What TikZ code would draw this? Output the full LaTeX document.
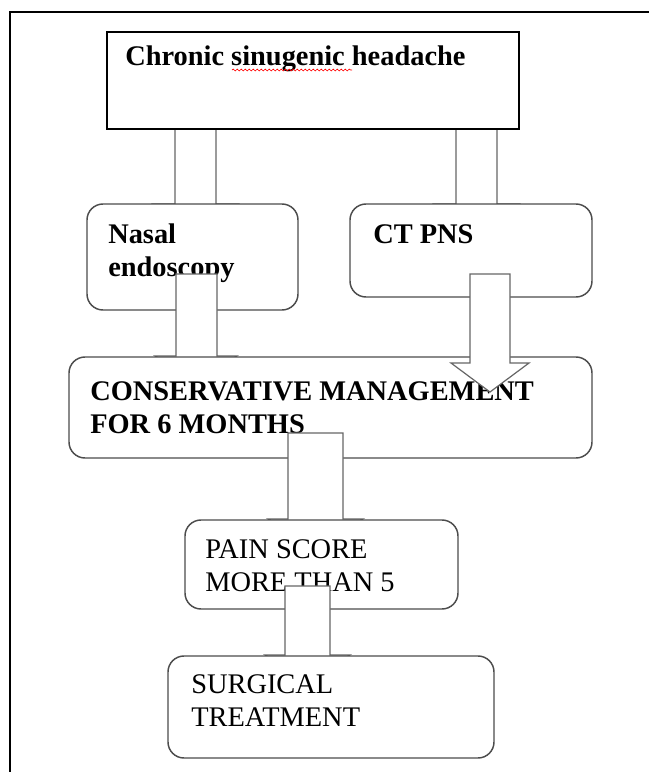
\documentclass[tikz,border=0pt]{standalone}
\usepackage{fontspec}
\setmainfont{Liberation Serif}
\usetikzlibrary{decorations.pathmorphing}
\newcommand\blkarrow[7]{%
  \draw[blockarrow] (#1,#3) -- (#1,#4) -- (#5,#4) -- ({(#1+#2)/2},#7) -- (#6,#4) -- (#2,#4) -- (#2,#3) -- cycle;}
\begin{document}
\begin{tikzpicture}[x=0.75pt,y=-0.75pt,
  sqbox/.style={draw=black, line width=0.9pt, fill=white, inner sep=0pt, outer sep=0pt, anchor=north west},
  rbox/.style={draw=black!70, line width=1.1pt, fill=white, rounded corners=12pt, inner sep=0pt, outer sep=0pt, anchor=north west},
  blockarrow/.style={draw=black!60, line width=0.9pt, fill=white, line join=miter},
  lbl/.style={anchor=base west, inner sep=0pt, align=left, font=\fontsize{21.3}{24.75}\selectfont},
  blbl/.style={lbl, font=\fontsize{21.3}{24.75}\selectfont\bfseries},
  frame/.style={draw=black, line width=1.6pt},
  squiggle/.style={draw=red, line width=0.5pt, decorate, decoration={snake, amplitude=0.7pt, segment length=3pt}},
]
\useasboundingbox (0,0) rectangle (649,772);
% outer frame (cropped on right and bottom)
\draw[frame] (10,800) -- (10,12) -- (670,12);

% arrows from top box
\blkarrow{175}{216}{128}{204}{153}{238}{233}
\blkarrow{456}{497}{128}{204}{434}{519}{233}

% top box
\node[sqbox, minimum width=309pt, minimum height=72.75pt] (top) at (107,32) {};
\node[blbl] (ttop) at (125,65) {Chronic sinugenic headache};
\draw[squiggle] (232,70) -- (352,70);

% second row
\node[rbox, minimum width=158.25pt, minimum height=79.5pt] (nasal) at (87,204) {};
\node[rbox, minimum width=181.5pt, minimum height=69.75pt] (ct) at (350,204) {};
\node[blbl] (tnasal) at (108,276) {Nasal\\endoscopy};
\node[blbl] (tct) at (373,243) {CT PNS};

% arrow nasal -> conservative
\blkarrow{176}{217}{274}{356}{155}{237}{385}

% conservative
\node[rbox, minimum width=392.25pt, minimum height=75.75pt] (cons) at (69,357) {};
\node[blbl] (tcons) at (90,433) {CONSERVATIVE MANAGEMENT\\FOR 6 MONTHS};

% arrow ct -> conservative (on top)
\blkarrow{470}{510}{274}{363}{451}{529}{392}

% arrow conservative -> pain
\blkarrow{288}{343}{433}{519}{268}{363}{550}

% pain
\node[rbox, minimum width=204.75pt, minimum height=66.75pt] (pain) at (185,520) {};
\node[lbl] (tpain) at (205,591) {PAIN SCORE\\MORE THAN 5};

% arrow pain -> surgical
\blkarrow{285}{330}{586}{655}{265}{350}{685}

% surgical
\node[rbox, minimum width=244.5pt, minimum height=76.5pt] (surg) at (168,656) {};
\node[lbl] (tsurg) at (191,726) {SURGICAL\\TREATMENT};
\end{tikzpicture}
\end{document}
